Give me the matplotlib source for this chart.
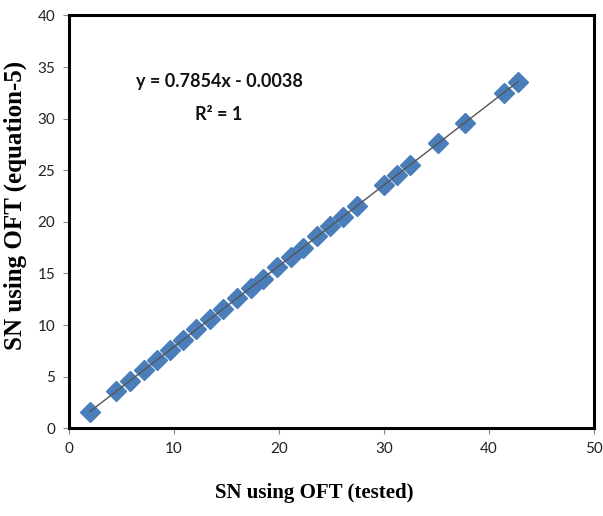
import matplotlib
matplotlib.use("Agg")
import matplotlib.pyplot as plt
import numpy as np

# ------------------ #
#   Data (read off)  #
# ------------------ #
sn_tested = [2.0, 4.5, 5.8, 7.1, 8.4, 9.6, 10.9, 12.1, 13.4, 14.7,
             16.0, 17.3, 18.5, 19.8, 21.1, 22.3, 23.6, 24.9, 26.1, 27.4,
             30.0, 31.2, 32.5, 35.1, 37.7, 41.4, 42.8]
sn_eq5 = [1.6, 3.6, 4.6, 5.6, 6.6, 7.6, 8.6, 9.6, 10.6, 11.6,
          12.6, 13.6, 14.5, 15.6, 16.6, 17.5, 18.6, 19.6, 20.5, 21.5,
          23.6, 24.5, 25.5, 27.6, 29.6, 32.5, 33.6]

eq_text = "y = 0.7854x - 0.0038"
r2_text = "R² = 1"
x_label = "SN using OFT (tested)"
y_label = "SN using OFT (equation-5)"

# ------------------ #
#   Plot             #
# ------------------ #
fig = plt.figure(figsize=(6.03, 5.16), dpi=100)
ax = fig.add_axes([0.1144, 0.170, 0.8706, 0.800])

# linear trend line over the data range
slope, intercept = np.polyfit(sn_tested, sn_eq5, 1)
xs = np.array([min(sn_tested), max(sn_tested)])
ax.plot(xs, slope * xs + intercept, color='#555555', lw=1.0, zorder=3)

ax.plot(sn_tested, sn_eq5, linestyle='none', marker='D', markersize=10,
        color='#4a7ebb', markeredgecolor='#4a7ebb', zorder=2)

ax.set_xlim(0, 50)
ax.set_ylim(0, 40)
ax.set_xticks(np.arange(0, 51, 10))
ax.set_yticks(np.arange(0, 41, 5))

for s in ax.spines.values():
    s.set_linewidth(2.2)
    s.set_color('black')

ax.tick_params(direction='out', length=4, width=0.8, color='#888888',
               labelsize=11, pad=6)
for lbl in ax.get_xticklabels() + ax.get_yticklabels():
    lbl.set_fontfamily('Lato')
    lbl.set_color('#222222')

ax.set_xlabel(x_label, fontfamily='Liberation Serif', fontweight='bold',
              fontsize=15)
ax.set_ylabel(y_label, fontfamily='Liberation Serif', fontweight='bold',
              fontsize=18)
ax.xaxis.set_label_coords(0.467, -0.133)
ax.yaxis.set_label_coords(-0.080, 0.54)

ax.text(14.3, 33.6, eq_text, ha='center', va='center', fontsize=13,
        fontfamily='Lato', fontweight='bold', color='#111111')
ax.text(14.3, 30.4, r2_text, ha='center', va='center', fontsize=13,
        fontfamily='Lato', fontweight='bold', color='#111111')

fig.savefig("out.png", dpi=100)
